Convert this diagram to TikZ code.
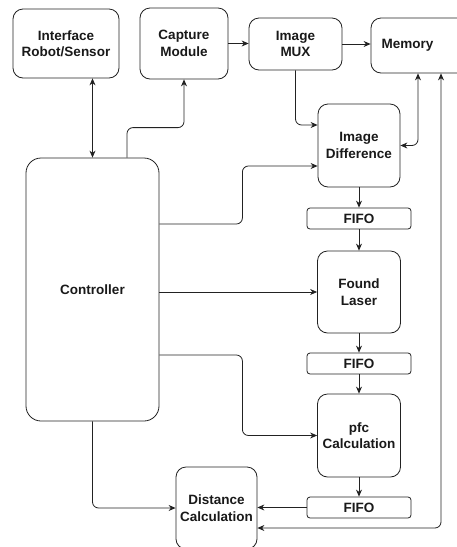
\documentclass[tikz,border=0pt]{standalone}
\usepackage{fontspec}
\setmainfont{Liberation Sans}
\usetikzlibrary{arrows.meta,calc}
\definecolor{ln}{HTML}{222222}
\tikzset{
  box/.style={draw=ln, line width=0.8pt, rounded corners=10pt, align=center, inner sep=0pt,
    font=\bfseries\fontsize{13.5}{16.5}\selectfont, text=black!90},
  fifobox/.style={box, rounded corners=3pt},
  arr/.style={draw=ln, line width=0.8pt, -{Stealth[length=7pt,width=6pt]}},
  darr/.style={draw=ln, line width=0.8pt, {Stealth[length=7pt,width=6pt]}-{Stealth[length=7pt,width=6pt]}},
}
\begin{document}
\begin{tikzpicture}[x=1pt,y=-1pt]
\clip (0,0) rectangle (457,547);
\fill[white] (0,0) rectangle (457,547);
\node[box, minimum width=106pt, minimum height=69pt] (iface) at (66,43.5) {Interface\\Robot/Sensor};
\node[box, minimum width=88pt, minimum height=71pt] (capture) at (184,43.5) {Capture\\Module};
\node[box, minimum width=93pt, minimum height=52pt] (mux) at (295.5,44) {Image\\MUX};
\node[box, minimum width=109pt, minimum height=55pt] (memory) at (425.5,45.5) {\hspace*{-36pt}Memory};
\node[box, minimum width=82pt, minimum height=83pt] (imgdiff) at (359,145.5) {Image\\Difference};
\node[fifobox, minimum width=104pt, minimum height=21pt] (fifo1) at (359,218.5) {FIFO};
\node[box, minimum width=83pt, minimum height=82pt] (laser) at (359,292) {Found\\Laser};
\node[fifobox, minimum width=104pt, minimum height=21pt] (fifo2) at (359,363.5) {FIFO};
\node[box, minimum width=83pt, minimum height=83pt] (pfc) at (359,435.5) {pfc\\Calculation};
\node[fifobox, minimum width=104pt, minimum height=21pt] (fifo3) at (359,507.5) {FIFO};
\node[box, minimum width=81pt, minimum height=82pt] (dist) at (216.5,508) {Distance\\Calculation};
\node[box, rounded corners=15pt, minimum width=133pt, minimum height=263pt] (ctrl) at (92.5,289.5) {Controller};

\draw[darr] (iface.south -| ctrl.north) -- (ctrl.north);
\draw[arr, rounded corners=6pt] ([xshift=34.5pt]ctrl.north) -- ++(0,-30) -| (capture.south);
\draw[arr] (capture.east) -- (mux.west |- capture.east);
\draw[arr] (mux.east) -- (memory.west |- mux.east);
\draw[arr, rounded corners=6pt] (mux.south) |- ([yshift=20.5pt]imgdiff.west);
\draw[darr, rounded corners=6pt] ([xshift=-7.5pt]memory.south) |- (imgdiff.east);
\draw[darr, rounded corners=6pt] ([xshift=15.5pt]memory.south) |- ([yshift=-20pt]dist.east);
\draw[arr, rounded corners=6pt] ([yshift=65.5pt]ctrl.east) -- ++(83,0) |- ([yshift=-20.5pt]imgdiff.west);
\draw[arr] (ctrl.east |- laser.west) -- (laser.west);
\draw[arr, rounded corners=6pt] ([yshift=-65.5pt]ctrl.east) -- ++(83,0) |- (pfc.west);
\draw[arr, rounded corners=6pt] (ctrl.south) |- (dist.west);
\draw[arr] (imgdiff.south) -- (fifo1.north);
\draw[arr] (fifo1.south) -- (laser.north);
\draw[arr] (laser.south) -- (fifo2.north);
\draw[arr] (fifo2.south) -- (pfc.north);
\draw[arr] (pfc.south) -- (fifo3.north);
\draw[arr] (fifo3.west) -- (dist.east |- fifo3.west);
\end{tikzpicture}
\end{document}
